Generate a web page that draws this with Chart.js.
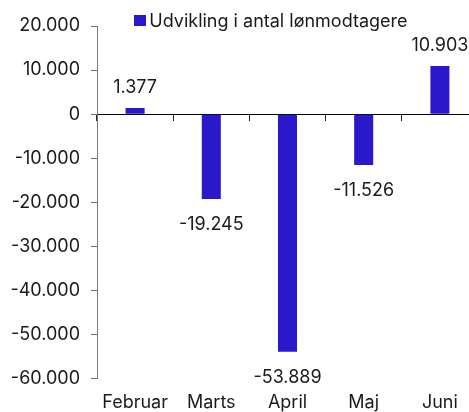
<!DOCTYPE html>
<html>
<head>
<meta charset="utf-8">
<script src="https://cdn.jsdelivr.net/npm/chart.js@4.4.1/dist/chart.umd.min.js"></script>
<style>
  html, body { margin: 0; padding: 0; overflow: hidden; background: #fff; }
  /* lærredet er lidt bredere end vinduet, så sidste kategori går ud over kanten */
  #wrap { position: relative; width: 478px; height: 412px; }
  #legend { position: absolute; left: 134px; top: 9.5px; font: 18px Inter; line-height: 22px; color: #1a1a1a; white-space: nowrap; }
  #legend .boks { position: absolute; left: 0; top: 5.5px; width: 12px; height: 11px; }
  #legend .tekst { display: block; padding-left: 15.3px; }
</style>
</head>
<body>
<div id="wrap"><canvas id="chart" width="478" height="412"></canvas><div id="legend"></div></div>
<script>
const maaneder = ['Februar', 'Marts', 'April', 'Maj', 'Juni'];
const loenmodtagere = [1377, -19245, -53889, -11526, 10903];
const yTickVaerdier = [-60000, -50000, -40000, -30000, -20000, -10000, 0, 10000, 20000];
const serieNavn = 'Udvikling i antal lønmodtagere';

const BLAA = '#2a19cb';
const TEKST = '#1a1a1a';
const FONT = 'Inter';

// 10903 -> "10.903", -53889 -> "-53.889"
function fmt(v) {
    const s = Math.abs(v).toString().replace(/\B(?=(\d{3})+(?!\d))/g, '.');
    return (v < 0 ? '-' : '') + s;
}

// tal over/under søjlerne
const vaerdiEtiketter = {
    id: 'vaerdiEtiketter',
    afterDatasetsDraw(chart) {
        const { ctx } = chart;
        const meta = chart.getDatasetMeta(0);
        ctx.save();
        ctx.font = '18px ' + FONT;
        ctx.fillStyle = TEKST;
        ctx.textAlign = 'center';
        ctx.textBaseline = 'middle';
        meta.data.forEach((bar, i) => {
            const v = loenmodtagere[i];
            const y = v >= 0 ? bar.y - 21 : bar.y + 26;
            ctx.fillText(fmt(v), bar.x, y);
        });
        ctx.restore();
    }
};

const ctx = document.getElementById('chart').getContext('2d');

const chart = new Chart(ctx, {
    type: 'bar',
    data: {
        labels: maaneder,
        datasets: [
            {
                label: serieNavn,
                data: loenmodtagere,
                backgroundColor: BLAA,
                borderWidth: 0,
                xAxisID: 'x',
                yAxisID: 'y',
                categoryPercentage: 1,
                barPercentage: 0.25,
            }
        ],
    },
    options: {
        responsive: false,
        animation: false,
        layout: {
            padding: { left: 0, right: 0, top: 26, bottom: -15.3 },
        },
        scales: {
            // aksen ved 0 med små streger mellem kategorierne
            x: {
                type: 'category',
                position: { y: 0 },
                offset: true,
                grid: {
                    offset: true,
                    drawOnChartArea: false,
                    drawTicks: true,
                    tickLength: 6,
                    color: '#222',
                },
                border: { display: true, color: '#000', width: 1 },
                ticks: { display: false },
            },
            // månedsnavne i bunden
            x2: {
                type: 'category',
                position: 'bottom',
                offset: true,
                grid: { display: false, drawTicks: false },
                border: { display: false },
                ticks: {
                    padding: 13.5,
                    color: TEKST,
                    font: { family: FONT, size: 18 },
                    maxRotation: 0,
                    autoSkip: false,
                },
            },
            y: {
                type: 'linear',
                position: 'left',
                min: yTickVaerdier[0],
                max: yTickVaerdier[yTickVaerdier.length - 1],
                afterBuildTicks: (s) => {
                    s.ticks = yTickVaerdier.map(v => ({ value: v }));
                },
                afterFit: (s) => {
                    s.width = 97;
                },
                grid: {
                    drawOnChartArea: false,
                    drawTicks: true,
                    tickLength: 6,
                    color: '#6f6f6f',
                },
                border: { display: true, color: '#7a7a7a', width: 1 },
                ticks: {
                    padding: 11,
                    color: TEKST,
                    font: { family: FONT, size: 18 },
                    callback: (v) => fmt(v),
                },
            },
        },
        plugins: {
            legend: { display: false },
            tooltip: { enabled: false },
        },
    },
    plugins: [vaerdiEtiketter]
});

// HTML-forklaring ud fra datasættet
const legendEl = document.getElementById('legend');
chart.data.datasets.forEach(ds => {
    const boks = document.createElement('span');
    boks.className = 'boks';
    boks.style.background = ds.backgroundColor;
    const tekst = document.createElement('span');
    tekst.className = 'tekst';
    tekst.textContent = ds.label;
    legendEl.appendChild(boks);
    legendEl.appendChild(tekst);
});
</script>
</body>
</html>
